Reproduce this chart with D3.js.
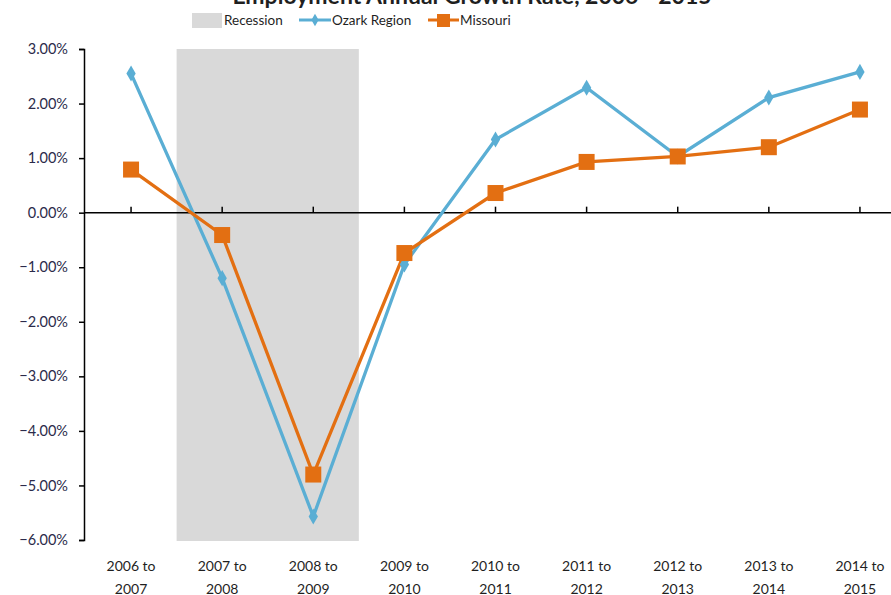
<!DOCTYPE html>
<html>
<head>
<meta charset="utf-8">
<title>Employment Annual Growth Rate</title>
<style>
body { margin: 0; background: #fff; }
text { font-family: Lato, "Open Sans", sans-serif; fill: #1f1f1f; }
.axis path, .axis line { stroke: #000; stroke-width: 1.5px; }
</style>
</head>
<body>
<script src="https://cdn.jsdelivr.net/npm/d3@7"></script>
<script>

var periods = ["2006 to 2007", "2007 to 2008", "2008 to 2009", "2009 to 2010", "2010 to 2011",
               "2011 to 2012", "2012 to 2013", "2013 to 2014", "2014 to 2015"];
var ozark = [2.55, -1.20, -5.57, -0.95, 1.34, 2.29, 1.03, 2.11, 2.58];
var missouri = [0.79, -0.41, -4.80, -0.74, 0.36, 0.93, 1.03, 1.20, 1.89];
var recession = ["2007 to 2008", "2008 to 2009"];
var yTicks = [3, 2, 1, 0, -1, -2, -3, -4, -5, -6];

var width = 891, height = 595;

var svg = d3.select("body").append("svg")
    .attr("width", width)
    .attr("height", height);

// plot runs off the right edge, like the original crop
var x = d3.scaleBand()
    .domain(periods)
    .range([85.5, 905.5]);

var y = d3.scaleLinear()
    .domain([-6, 3])
    .range([540, 49]);

// recession shading
svg.append("rect")
    .attr("x", x(recession[0]))
    .attr("y", y(3))
    .attr("width", x.bandwidth() * recession.length)
    .attr("height", y(-6) - y(3) + 1)
    .style("fill", "#d9d9d9");

// title (cut off at top)
svg.append("text")
    .attr("x", 472)
    .attr("y", 4)
    .attr("text-anchor", "middle")
    .style("font-size", "23px")
    .style("font-weight", "bold")
    .text("Employment Annual Growth Rate, 2006 - 2015");

// y axis
var yAxis = svg.append("g")
    .attr("class", "axis")
    .attr("transform", "translate(84,0)")
    .call(d3.axisLeft(y).tickValues(yTicks).tickSize(5).tickSizeOuter(5)
        .tickFormat(function(d) { return d3.format(".2f")(d) + "%"; }));
yAxis.selectAll("text")
    .attr("x", -16)
    .style("font-size", "14.5px")
    .style("fill", "#2b2b4a");

// zero line with category ticks
svg.append("g")
    .attr("class", "axis")
    .attr("transform", "translate(0," + y(0) + ")")
    .call(d3.axisTop(x).tickSize(6).tickSizeOuter(0).tickFormat(""))
    .select(".domain")
    .attr("d", "M84,0H905.5");

// category labels, two lines
var labels = svg.append("g").selectAll("text")
    .data(periods)
    .enter().append("text")
    .attr("text-anchor", "middle")
    .style("font-size", "14px")
    .attr("transform", function(d) { return "translate(" + (x(d) + x.bandwidth() / 2) + ",571)"; });
labels.append("tspan").attr("x", 0).attr("dy", 0)
    .text(function(d) { return d.split(" to ")[0] + " to"; });
labels.append("tspan").attr("x", 0).attr("dy", 23)
    .text(function(d) { return d.split(" to ")[1]; });

var line = d3.line()
    .x(function(d, i) { return x(periods[i]) + x.bandwidth() / 2; })
    .y(function(d) { return y(d); });

var blue = "#5aaed4", orange = "#e36f12";

svg.append("path")
    .datum(ozark)
    .attr("d", line)
    .style("fill", "none")
    .style("stroke", blue)
    .style("stroke-width", 3.3);

svg.append("path")
    .datum(missouri)
    .attr("d", line)
    .style("fill", "none")
    .style("stroke", orange)
    .style("stroke-width", 3.3);

svg.append("g").selectAll("path")
    .data(ozark)
    .enter().append("path")
    .attr("d", d3.symbol().type(d3.symbolDiamond).size(75))
    .attr("transform", function(d, i) { return "translate(" + (x(periods[i]) + x.bandwidth() / 2) + "," + y(d) + ")"; })
    .style("fill", blue);

svg.append("g").selectAll("rect")
    .data(missouri)
    .enter().append("rect")
    .attr("x", function(d, i) { return x(periods[i]) + x.bandwidth() / 2 - 8; })
    .attr("y", function(d) { return y(d) - 8; })
    .attr("width", 16)
    .attr("height", 16)
    .style("fill", orange);

// legend
var legend = svg.append("g");
legend.append("rect")
    .attr("x", 192).attr("y", 13).attr("width", 30).attr("height", 15)
    .style("fill", "#d9d9d9");
legend.append("text").attr("x", 224).attr("y", 25).style("font-size", "13.5px").text("Recession");

legend.append("line")
    .attr("x1", 299).attr("x2", 331).attr("y1", 20).attr("y2", 20)
    .style("stroke", blue).style("stroke-width", 3);
legend.append("path")
    .attr("d", d3.symbol().type(d3.symbolDiamond).size(45))
    .attr("transform", "translate(315,20)")
    .style("fill", blue);
legend.append("text").attr("x", 332).attr("y", 25).style("font-size", "13.5px").text("Ozark Region");

legend.append("line")
    .attr("x1", 428).attr("x2", 459).attr("y1", 20).attr("y2", 20)
    .style("stroke", orange).style("stroke-width", 3);
legend.append("rect")
    .attr("x", 437).attr("y", 14).attr("width", 13).attr("height", 13)
    .style("fill", orange);
legend.append("text").attr("x", 460).attr("y", 25).style("font-size", "13.5px").text("Missouri");

</script>
</body>
</html>
